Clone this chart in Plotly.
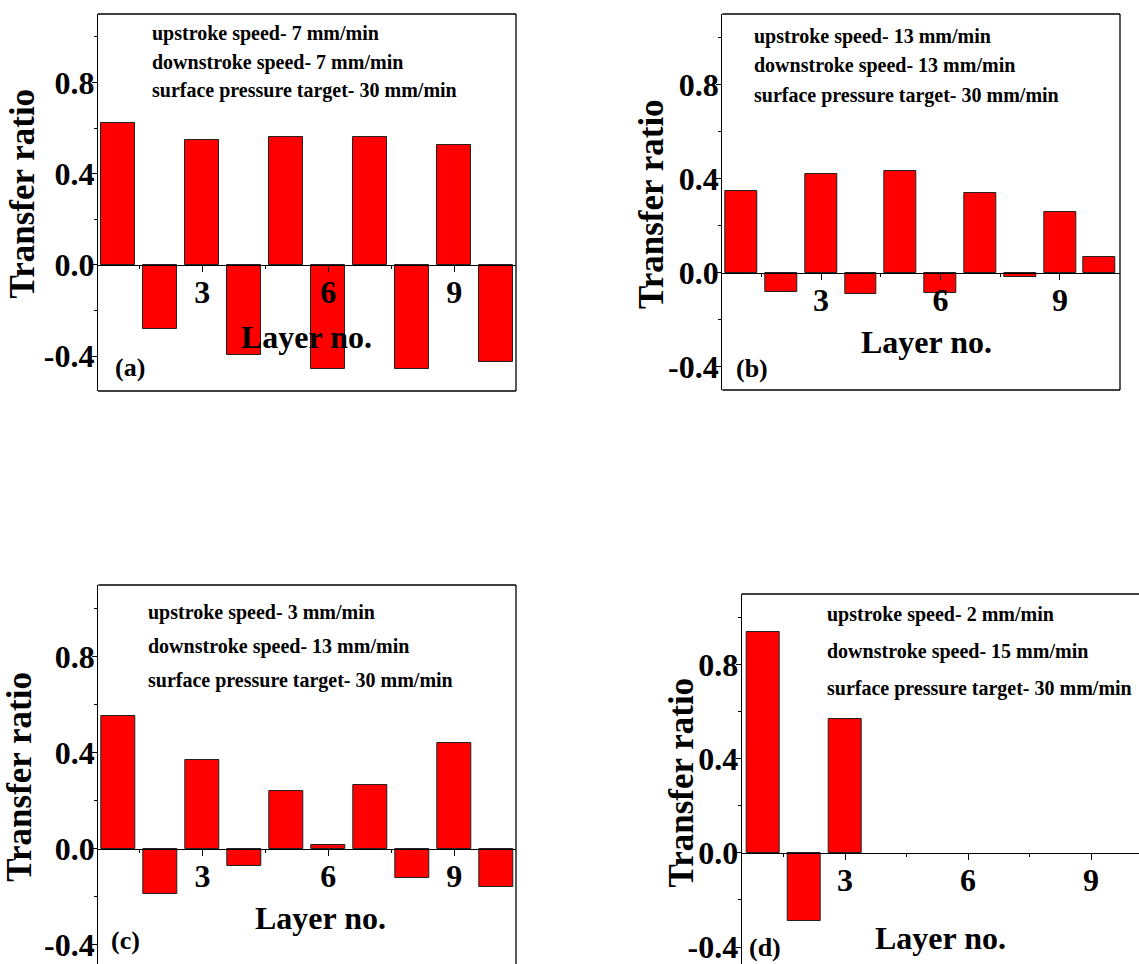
import plotly.graph_objects as go

W, H = 1139, 964

layers = list(range(1, 11))
ratio_a = [0.621, -0.282, 0.547, -0.395, 0.561, -0.455, 0.561, -0.458, 0.525, -0.428]
ratio_b = [0.348, -0.083, 0.420, -0.092, 0.430, -0.088, 0.339, -0.020, 0.257, 0.065]
ratio_c = [0.554, -0.187, 0.369, -0.073, 0.243, 0.017, 0.267, -0.122, 0.442, -0.161]
layers_d = [1, 2, 3]
ratio_d = [0.940, -0.290, 0.571]

info_a = ["upstroke speed- 7 mm/min", "downstroke speed- 7 mm/min", "surface pressure target- 30 mm/min"]
info_b = ["upstroke speed- 13 mm/min", "downstroke speed- 13 mm/min", "surface pressure target- 30 mm/min"]
info_c = ["upstroke speed- 3 mm/min", "downstroke speed- 13 mm/min", "surface pressure target- 30 mm/min"]
info_d = ["upstroke speed- 2 mm/min", "downstroke speed- 15 mm/min", "surface pressure target- 30 mm/min"]

panel_labels = ["(a)", "(b)", "(c)", "(d)"]
x_title = "Layer no."
y_title = "Transfer ratio"
y_tickvals = [-0.4, 0.0, 0.4, 0.8]
y_ticktext = ["-0.4", "0.0", "0.4", "0.8"]
x_tickvals = [3, 6, 9]

FONT = "Liberation Serif, Times New Roman, serif"


def px_x(p):
    return p / W


def px_y(p):
    return 1 - p / H


# panel geometry in pixels: (left, right, top, bottom), ranges, frame sides
panels = [
    dict(x=layers, y=ratio_a, info=info_a, box=(98, 516, 14, 391), xr=[0.52, 10.47], yr=[-0.553, 1.10],
         sides=("top", "right", "bottom"), info_pos=(150, [33.3, 62.3, 90]), lab=(129.5, 367),
         xt=(306.5, 337), yt=(22.5, 194)),
    dict(x=layers, y=ratio_b, info=info_b, box=(722.3, 1120, 14, 390), xr=[0.52, 10.51], yr=[-0.50, 1.10],
         sides=("top", "right", "bottom"), info_pos=(752.3, [36.7, 65.7, 96]), lab=(752, 368),
         xt=(926.7, 341.7), yt=(651, 204)),
    dict(x=layers, y=ratio_c, info=info_c, box=(98.3, 516, 585, 964), xr=[0.52, 10.47], yr=[-0.48, 1.10],
         sides=("top", "right"), info_pos=(146, [612.7, 646.7, 680]), lab=(125.5, 940.7),
         xt=(320, 918.3), yt=(20, 776.7)),
    dict(x=layers_d, y=ratio_d, info=info_d, box=(741.7, 1139, 594, 964), xr=[0.48, 10.17], yr=[-0.472, 1.10],
         sides=("top",), info_pos=(825, [614.3, 651, 688.3]), lab=(765, 947.7),
         xt=(940.5, 938.3), yt=(681, 782.5)),
]

fig = go.Figure()
shapes = []
annotations = []
layout_axes = {}

for i, p in enumerate(panels):
    n = i + 1
    xs = "" if n == 1 else str(n)
    xa, ya = "x" + xs, "y" + xs
    left, right, top, bottom = p["box"]
    xdom = [px_x(left), px_x(right)]
    ydom = [px_y(bottom), px_y(top)]
    ymin, ymax = p["yr"]
    zero_pos = ydom[0] + (0 - ymin) / (ymax - ymin) * (ydom[1] - ydom[0])

    fig.add_trace(go.Bar(x=p["x"], y=p["y"], width=0.8, xaxis=xa, yaxis=ya,
                         marker=dict(color="#ff0000", line=dict(color="#222222", width=1)),
                         showlegend=False))

    layout_axes["xaxis" + xs] = dict(
        domain=xdom, range=p["xr"], anchor="free", position=zero_pos,
        tickmode="array", tickvals=x_tickvals, ticktext=[str(v) for v in x_tickvals],
        ticks="outside", ticklen=6, tickwidth=1.2, tickcolor="black",
        minor=dict(tickmode="array", tickvals=[1.5, 4.5, 7.5], ticks="outside", ticklen=3, tickcolor="black"),
        showline=True, linecolor="black", linewidth=1.3, showgrid=False, zeroline=False,
        tickfont=dict(family=FONT, size=32, color="black", weight="bold"),
        ticklabelstandoff=-7, ticklabeloverflow="allow",
    )
    layout_axes["yaxis" + xs] = dict(
        domain=ydom, range=p["yr"], anchor=xa,
        tickmode="array", tickvals=y_tickvals, ticktext=y_ticktext,
        ticks="outside", ticklen=5, tickwidth=1.2, tickcolor="black",
        minor=dict(tickmode="array", tickvals=[-0.2, 0.2, 0.6, 1.0], ticks="outside", ticklen=3, tickcolor="black"),
        showline=True, linecolor="black", linewidth=1.3, showgrid=False, zeroline=False,
        tickfont=dict(family=FONT, size=32, color="black", weight="bold"),
        ticklabelstandoff=-9, ticklabeloverflow="allow",
    )

    # frame
    segs = {"top": (0, 1, 1, 1), "right": (1, 0, 1, 1), "bottom": (0, 0, 1, 0)}
    for s in p["sides"]:
        x0, y0, x1, y1 = segs[s]
        shapes.append(dict(type="line", xref=xa + " domain", yref=ya + " domain",
                           x0=x0, y0=y0, x1=x1, y1=y1, line=dict(color="black", width=1.3)))

    # info text
    ix, iys = p["info_pos"]
    for txt, iy in zip(p["info"], iys):
        annotations.append(dict(text=txt, x=px_x(ix), y=px_y(iy), xref="paper", yref="paper",
                                xanchor="left", yanchor="middle", showarrow=False,
                                font=dict(family=FONT, size=20, color="black", weight="bold")))
    # panel label
    annotations.append(dict(text=panel_labels[i], x=px_x(p["lab"][0]), y=px_y(p["lab"][1]),
                            xref="paper", yref="paper", xanchor="center", yanchor="middle", showarrow=False,
                            font=dict(family=FONT, size=26, color="black", weight="bold")))
    # axis titles
    annotations.append(dict(text=x_title, x=px_x(p["xt"][0]), y=px_y(p["xt"][1]),
                            xref="paper", yref="paper", xanchor="center", yanchor="middle", showarrow=False,
                            font=dict(family=FONT, size=32, color="black", weight="bold")))
    annotations.append(dict(text=y_title, x=px_x(p["yt"][0]), y=px_y(p["yt"][1]), textangle=-90,
                            xref="paper", yref="paper", xanchor="center", yanchor="middle", showarrow=False,
                            font=dict(family=FONT, size=35, color="black", weight="bold")))

fig.update_layout(
    width=W, height=H, margin=dict(l=0, r=0, t=0, b=0),
    paper_bgcolor="white", plot_bgcolor="white",
    shapes=shapes, annotations=annotations, bargap=0,
    **layout_axes,
)

fig.write_html("out.html", config={"displayModeBar": False},
               post_script="document.body.style.margin='0';document.body.style.overflow='hidden';")
